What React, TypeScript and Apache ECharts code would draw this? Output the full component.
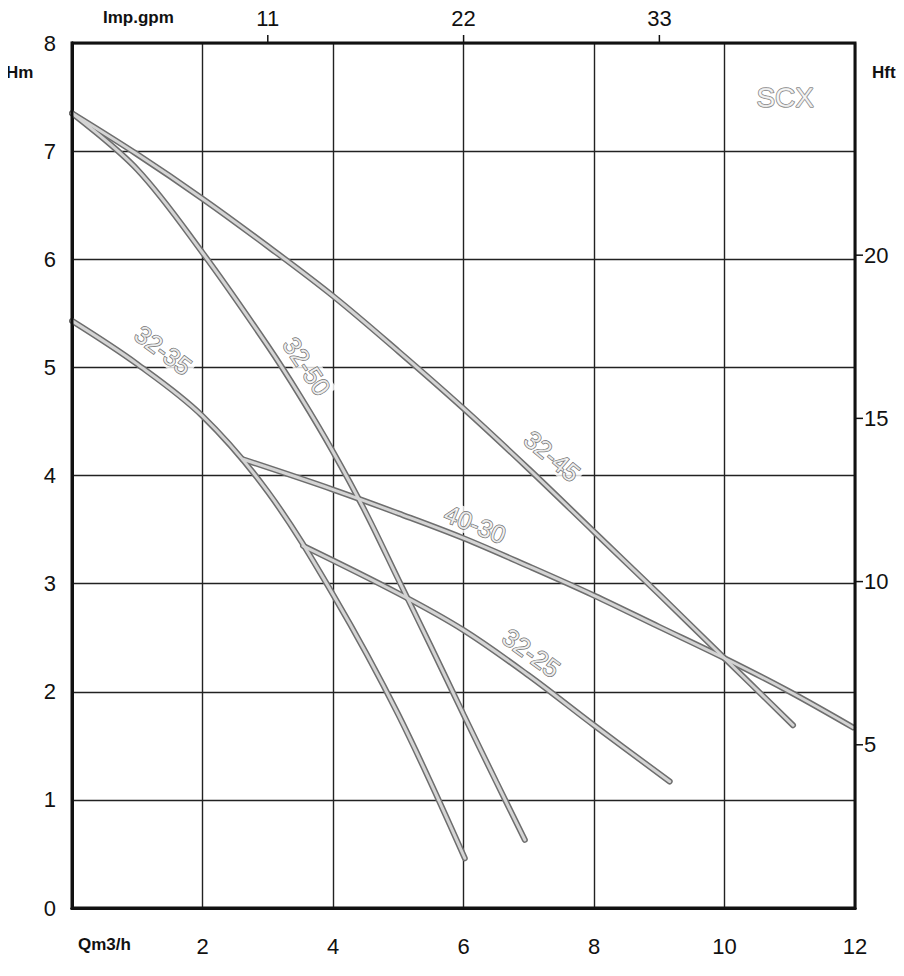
import React, { useEffect, useRef } from "react";
import * as echarts from "echarts";

// Pump curves: flow Q (m3/h) vs head H (m)
const q3245 = [0, 1, 2, 3, 4, 5, 6, 7, 8, 9, 10, 11.05];
const h3245 = [7.35, 6.97, 6.56, 6.12, 5.66, 5.15, 4.62, 4.06, 3.48, 2.9, 2.31, 1.69];

const q3250 = [0, 1, 2, 3, 3.5, 4, 4.5, 5, 5.5, 6, 6.5, 6.94];
const h3250 = [7.35, 6.83, 6.06, 5.2, 4.73, 4.22, 3.66, 3.04, 2.42, 1.79, 1.17, 0.63];

const q3235 = [0, 1, 2, 3, 4, 5, 6.02];
const h3235 = [5.43, 5.03, 4.55, 3.85, 2.9, 1.79, 0.46];

const q4030 = [2.62, 4, 5, 6, 7, 8, 9, 10, 11, 11.97];
const h4030 = [4.15, 3.87, 3.65, 3.42, 3.16, 2.89, 2.6, 2.31, 2.0, 1.67];

const q3225 = [3.54, 5, 6, 7, 8, 9.16];
const h3225 = [3.35, 2.91, 2.57, 2.15, 1.69, 1.17];

const curveNames = ["32-45", "32-50", "32-35", "40-30", "32-25"];
const curveQ = [q3245, q3250, q3235, q4030, q3225];
const curveH = [h3245, h3250, h3235, h4030, h3225];

// Curve label annotations (data coordinates) and their text angle
const labelNames = ["32-50", "32-35", "32-45", "40-30", "32-25"];
const labelQ = [3.6, 1.4, 7.36, 6.18, 7.04];
const labelH = [5.01, 5.16, 4.18, 3.55, 2.36];
const labelAngle = [-56, -37, -40, -22, -36];

const seriesTitle = "SCX";
const titleQ = 10.93;
const titleH = 7.5;

// Axes
const qMax = 12;
const hMax = 8;
const ftMax = 26.5; // right axis (Hft) as printed
const gpmMax = 43.99; // top axis (Imp.gpm) at Q = 12 m3/h
const gpmTicks = [11, 22, 33];
const ftTicks = [5, 10, 15, 20];

const FONT = "'Liberation Sans', Arial, Helvetica, sans-serif";

export default function App() {
  const ref = useRef<HTMLDivElement>(null);

  useEffect(() => {
    if (!ref.current) return;
    const chart = echarts.init(ref.current, undefined, { renderer: "svg" });

    const series: any[] = [];
    curveNames.forEach((name, i) => {
      const data = curveQ[i].map((q, j) => [q, curveH[i][j]]);
      series.push({
        type: "line",
        name: name + " outline",
        data,
        smooth: 0.35,
        symbol: "none",
        lineStyle: { color: "#6e6e6e", width: 6, cap: "round" },
        z: 3,
      });
      series.push({
        type: "line",
        name,
        data,
        smooth: 0.35,
        symbol: "none",
        lineStyle: { color: "#d4d4d4", width: 3, cap: "round" },
        z: 4,
      });
    });

    series.push({
      type: "scatter",
      name: "labels",
      symbolSize: 0,
      z: 6,
      data: labelNames.map((n, i) => ({
        value: [labelQ[i], labelH[i]],
        name: n,
        label: { rotate: labelAngle[i] },
      })),
      label: {
        show: true,
        position: "inside",
        formatter: (p: any) => p.name,
        fontFamily: FONT,
        fontSize: 25,
        color: "#ffffff",
        textBorderColor: "#4e4e4e",
        textBorderWidth: 1.4,
        backgroundColor: "#ffffff",
        padding: [0, 3],
      },
      silent: true,
    });

    series.push({
      type: "scatter",
      name: "title",
      symbolSize: 0,
      z: 6,
      data: [{ value: [titleQ, titleH], name: seriesTitle }],
      label: {
        show: true,
        position: "inside",
        formatter: (p: any) => p.name,
        fontFamily: FONT,
        fontSize: 28,
        color: "#ffffff",
        textBorderColor: "#666666",
        textBorderWidth: 1.5,
      },
      silent: true,
    });

    chart.setOption({
      animation: false,
      backgroundColor: "#ffffff",
      grid: {
        left: 72,
        right: 49,
        top: 43,
        bottom: 68,
        show: true,
        borderColor: "#111",
        borderWidth: 3,
        backgroundColor: "transparent",
        z: 10,
      },
      xAxis: [
        {
          type: "value",
          position: "bottom",
          min: 0,
          max: qMax,
          interval: 2,
          axisLine: { show: true, lineStyle: { color: "#111", width: 3 } },
          axisTick: { show: false },
          axisLabel: {
            margin: 27,
            fontFamily: FONT,
            fontSize: 22,
            color: "#111",
            formatter: (v: number) => (v === 0 ? "" : String(v)),
          },
          splitLine: { show: true, lineStyle: { color: "#222", width: 1.4 } },
        },
        {
          type: "value",
          position: "top",
          min: 0,
          max: gpmMax,
          axisLine: { show: true, lineStyle: { color: "#111", width: 3 } },
          axisTick: { show: false },
          axisLabel: {
            customValues: gpmTicks,
            margin: 14,
            fontFamily: FONT,
            fontSize: 22,
            color: "#111",
          },
          splitLine: { show: false },
        },
      ],
      yAxis: [
        {
          type: "value",
          position: "left",
          min: 0,
          max: hMax,
          interval: 1,
          axisLine: { show: true, lineStyle: { color: "#111", width: 3 } },
          axisTick: { show: false },
          axisLabel: {
            margin: 16,
            fontFamily: FONT,
            fontSize: 22,
            color: "#111",
          },
          splitLine: { show: true, lineStyle: { color: "#222", width: 1.4 } },
        },
        {
          type: "value",
          position: "right",
          min: 0,
          max: ftMax,
          axisLine: { show: true, lineStyle: { color: "#111", width: 3 } },
          axisTick: { show: false },
          axisLabel: {
            customValues: ftTicks,
            margin: 9,
            fontFamily: FONT,
            fontSize: 22,
            color: "#111",
          },
          splitLine: { show: false },
        },
      ],
      series,
    });

    // Outward ticks on the top (Imp.gpm) and right (Hft) axes, placed via the axes' scales
    const topY = chart.convertToPixel({ yAxisIndex: 0 }, hMax) as number;
    const rightX = chart.convertToPixel({ xAxisIndex: 0 }, qMax) as number;
    const tickEls: any[] = [];
    gpmTicks.forEach((v) => {
      const x = chart.convertToPixel({ xAxisIndex: 1 }, v) as number;
      tickEls.push({
        type: "line",
        shape: { x1: x, y1: topY, x2: x, y2: topY - 8 },
        style: { stroke: "#111", lineWidth: 1.5 },
        z: 20,
      });
    });
    ftTicks.forEach((v) => {
      const y = chart.convertToPixel({ yAxisIndex: 1 }, v) as number;
      tickEls.push({
        type: "line",
        shape: { x1: rightX, y1: y, x2: rightX + 8, y2: y },
        style: { stroke: "#111", lineWidth: 1.5 },
        z: 20,
      });
    });

    chart.setOption({
      graphic: [
        {
          type: "text",
          left: 103,
          top: 9,
          style: { text: "Imp.gpm", font: `bold 17px ${FONT}`, fill: "#111" },
        },
        {
          type: "text",
          left: 6,
          top: 64,
          style: { text: "Hm", font: `bold 17px ${FONT}`, fill: "#111" },
        },
        {
          type: "text",
          left: 872,
          top: 64,
          style: { text: "Hft", font: `bold 17px ${FONT}`, fill: "#111" },
        },
        {
          type: "text",
          left: 78,
          top: 936,
          style: { text: "Qm3/h", font: `bold 17px ${FONT}`, fill: "#111" },
        },
        ...tickEls,
      ],
    });

    return () => chart.dispose();
  }, []);

  return <div ref={ref} style={{ width: 904, height: 976, margin: -8 }} />;
}
